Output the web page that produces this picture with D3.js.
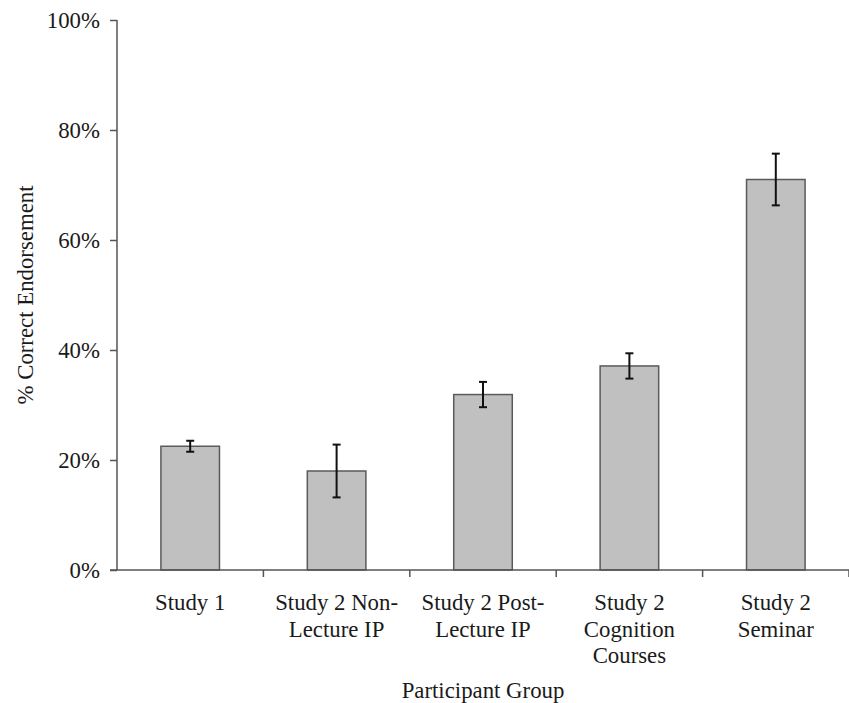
<!DOCTYPE html>
<html>
<head>
<meta charset="utf-8">
<script src="https://cdn.jsdelivr.net/npm/d3@7/dist/d3.min.js"></script>
<style>
  html, body { margin: 0; padding: 0; background: #fff; }
  svg { display: block; }
</style>
</head>
<body>
<svg id="chart" width="849" height="703"></svg>
<script>
// Participant groups (multi-line labels) and their endorsement rates
const groups = [
  ["Study 1"],
  ["Study 2 Non-", "Lecture IP"],
  ["Study 2 Post-", "Lecture IP"],
  ["Study 2", "Cognition", "Courses"],
  ["Study 2", "Seminar"]
];
const percentCorrect = [22.5, 18.0, 31.9, 37.1, 71.0];
const errorHalf = [1.0, 4.8, 2.3, 2.3, 4.7];
const yTicks = [0, 20, 40, 60, 80, 100];

const FONT = "'Liberation Serif', 'Times New Roman', Times, 'DejaVu Serif', serif";
const FONT_SIZE = 22.8;
const svg = d3.select("#chart")
  .attr("font-family", FONT)
  .style("font-family", FONT);
const plotLeft = 117, plotRight = 849, plotTop = 20, plotBottom = 570;

const keys = groups.map((g, i) => i);
const x = d3.scaleBand().domain(keys).range([plotLeft, plotRight])
  .paddingInner(0.6).paddingOuter(0.3);
const y = d3.scaleLinear().domain([0, 100]).range([plotBottom, plotTop]);

const axisColor = "#555";
const textColor = "#1a1a1a";

// Bars
svg.append("g").selectAll("rect")
  .data(percentCorrect)
  .join("rect")
  .attr("x", (d, i) => x(i))
  .attr("y", d => y(d))
  .attr("width", x.bandwidth())
  .attr("height", d => y(0) - y(d))
  .attr("fill", "#c0c0c0")
  .attr("stroke", "#5a5a5a")
  .attr("stroke-width", 1.5);

// Error bars
const eg = svg.append("g").attr("stroke", "#111").attr("stroke-width", 2);
percentCorrect.forEach((v, i) => {
  const cx = x(i) + x.bandwidth() / 2;
  const hi = y(v + errorHalf[i]), lo = y(v - errorHalf[i]);
  eg.append("line").attr("x1", cx).attr("x2", cx).attr("y1", hi).attr("y2", lo);
  eg.append("line").attr("x1", cx - 4).attr("x2", cx + 4).attr("y1", hi).attr("y2", hi);
  eg.append("line").attr("x1", cx - 4).attr("x2", cx + 4).attr("y1", lo).attr("y2", lo);
});

// Y axis
const yAxis = d3.axisLeft(y).tickValues(yTicks).tickFormat(d => d + "%")
  .tickSize(7).tickPadding(10);
const yg = svg.append("g").attr("transform", `translate(${plotLeft},0)`).call(yAxis)
  .attr("font-family", FONT).attr("font-size", FONT_SIZE);
yg.select(".domain").attr("stroke", axisColor).attr("stroke-width", 1.5).attr("d", `M0,${plotTop}V${plotBottom}`);
yg.selectAll(".tick line").attr("stroke", axisColor).attr("stroke-width", 1.5);
yg.selectAll(".tick text").attr("fill", textColor);

// X axis line and category boundary ticks
const xg = svg.append("g");
xg.append("line").attr("x1", plotLeft - 7).attr("x2", plotRight).attr("y1", plotBottom).attr("y2", plotBottom)
  .attr("stroke", axisColor).attr("stroke-width", 1.5);
const step = x.step();
keys.forEach(i => {
  const bx = x(i) + x.bandwidth() / 2 + step / 2;
  xg.append("line").attr("x1", bx).attr("x2", bx).attr("y1", plotBottom).attr("y2", plotBottom + 7)
    .attr("stroke", axisColor).attr("stroke-width", 1.5);
});

// Category labels
groups.forEach((lines, i) => {
  const cx = x(i) + x.bandwidth() / 2;
  const t = svg.append("text")
    .attr("x", cx)
    .attr("y", 610)
    .attr("text-anchor", "middle")
    .attr("font-family", FONT)
    .attr("font-size", FONT_SIZE)
    .attr("fill", textColor);
  lines.forEach((ln, j) => {
    t.append("tspan").attr("x", cx).attr("dy", j === 0 ? 0 : 26.5).text(ln);
  });
});

// Axis titles
svg.append("text")
  .attr("x", (plotLeft + plotRight) / 2)
  .attr("y", 698)
  .attr("text-anchor", "middle")
  .attr("font-family", FONT)
  .attr("font-size", FONT_SIZE)
  .attr("fill", textColor)
  .text("Participant Group");

svg.append("text")
  .attr("transform", `translate(33,${(plotTop + plotBottom) / 2}) rotate(-90)`)
  .attr("text-anchor", "middle")
  .attr("font-family", FONT)
  .attr("font-size", FONT_SIZE)
  .attr("fill", textColor)
  .text("% Correct Endorsement");
</script>
</body>
</html>
